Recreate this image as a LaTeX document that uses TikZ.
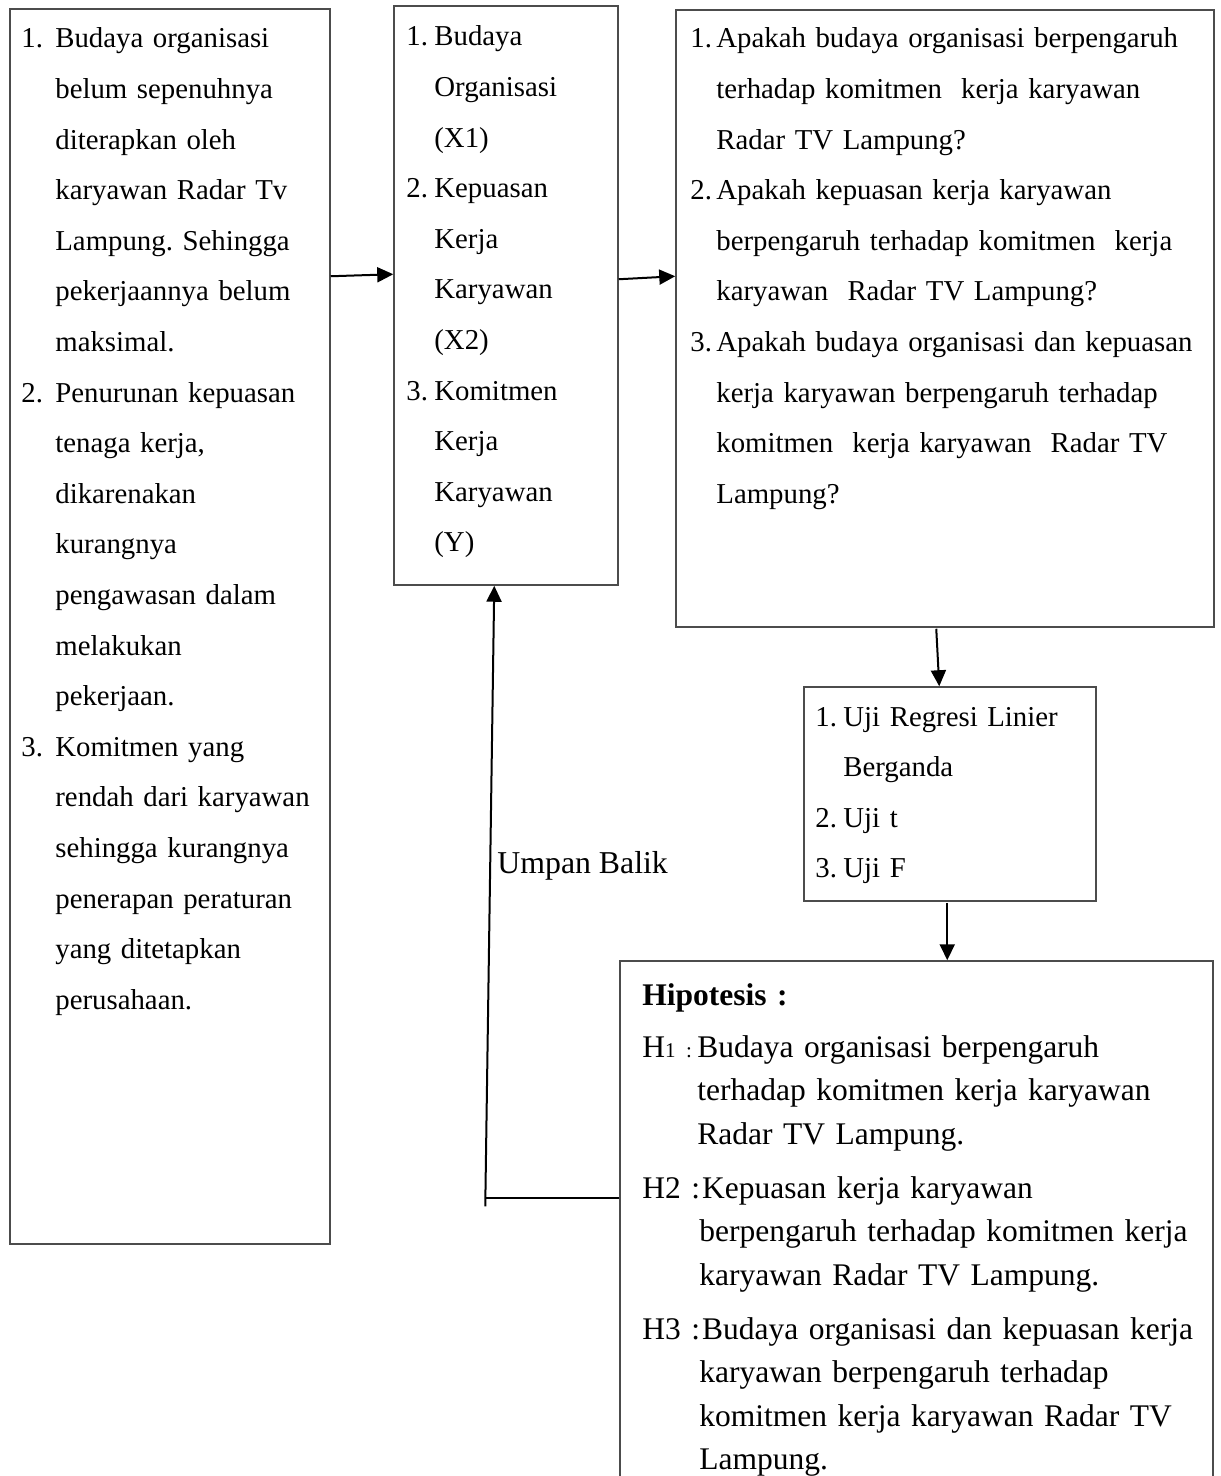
\documentclass[tikz,border=0pt]{standalone}
\usepackage{fontspec}
\setmainfont{Liberation Serif}
\usetikzlibrary{arrows.meta,calc,fit}
\newcommand\nitem[2]{\makebox[#1][l]{#2}}
\newcommand\ncont[1]{\hspace*{#1}}
\newcommand\smallsub[1]{{\fontsize{10.5pt}{10.5pt}\selectfont #1}}
\frenchspacing
\begin{document}
\frenchspacing
\begin{tikzpicture}[x=0.5pt,y=-0.5pt,
  box/.style={draw=black!70, line width=0.75pt, inner sep=0pt},
  arr/.style={line width=1pt, -{Triangle[length=8pt,width=7.5pt]}},
  ln/.style={line width=1pt},
  txta/.style={anchor=base west, inner sep=0pt, text width=300pt, align=left,
    font=\fontsize{14.4pt}{25.3pt}\selectfont\frenchspacing},
  txte/.style={anchor=base west, inner sep=0pt, text width=300pt, align=left,
    font=\fontsize{15.75pt}{21.75pt}\selectfont\frenchspacing}]
\useasboundingbox (0,0) rectangle (1220,1476);
\clip (0,0) rectangle (1220,1476);
% boxes
\node[box, fit={(10,9) (330,1244)}] (A) {};
\node[box, fit={(394,6) (618,585)}] (B) {};
\node[box, fit={(676,10) (1214,627)}] (C) {};
\node[box, fit={(804,687) (1096,901)}] (D) {};
\node[box, fit={(620,961) (1213,1500)}] (E) {};
% texts
\node[txta] (tA) at (21,48) {%
\nitem{17pt}{1.}Budaya organisasi\\
\ncont{17pt}belum sepenuhnya\\
\ncont{17pt}diterapkan oleh\\
\ncont{17pt}karyawan Radar Tv\\
\ncont{17pt}Lampung. Sehingga\\
\ncont{17pt}pekerjaannya belum\\
\ncont{17pt}maksimal.\\
\nitem{17pt}{2.}Penurunan kepuasan\\
\ncont{17pt}tenaga kerja,\\
\ncont{17pt}dikarenakan\\
\ncont{17pt}kurangnya\\
\ncont{17pt}pengawasan dalam\\
\ncont{17pt}melakukan\\
\ncont{17pt}pekerjaan.\\
\nitem{17pt}{3.}Komitmen yang\\
\ncont{17pt}rendah dari karyawan\\
\ncont{17pt}sehingga kurangnya\\
\ncont{17pt}penerapan peraturan\\
\ncont{17pt}yang ditetapkan\\
\ncont{17pt}perusahaan.};
\node[txta] (tB) at (406,46) {%
\nitem{14pt}{1.}Budaya\\
\ncont{14pt}Organisasi\\
\ncont{14pt}(X1)\\
\nitem{14pt}{2.}Kepuasan\\
\ncont{14pt}Kerja\\
\ncont{14pt}Karyawan\\
\ncont{14pt}(X2)\\
\nitem{14pt}{3.}Komitmen\\
\ncont{14pt}Kerja\\
\ncont{14pt}Karyawan\\
\ncont{14pt}(Y)};
\node[txta] (tC) at (690,48) {%
\nitem{13pt}{1.}Apakah budaya organisasi berpengaruh\\
\ncont{13pt}terhadap komitmen~ kerja karyawan\\
\ncont{13pt}Radar TV Lampung?\\
\nitem{13pt}{2.}Apakah kepuasan kerja karyawan\\
\ncont{13pt}berpengaruh terhadap komitmen~ kerja\\
\ncont{13pt}karyawan~ Radar TV Lampung?\\
\nitem{13pt}{3.}Apakah budaya organisasi dan kepuasan\\
\ncont{13pt}kerja karyawan berpengaruh terhadap\\
\ncont{13pt}komitmen~ kerja karyawan~ Radar TV\\
\ncont{13pt}Lampung?};
\node[txta] (tD) at (815,726) {%
\nitem{14pt}{1.}Uji Regresi Linier\\
\ncont{14pt}Berganda\\
\nitem{14pt}{2.}Uji t\\
\nitem{14pt}{3.}Uji F};
\node[txte] (tE) at (642,1005) {%
{\bfseries Hipotesis :}\\[4.25pt]
\nitem{27.5pt}{H\smallsub{1 :}}Budaya organisasi berpengaruh\\
\ncont{27.5pt}terhadap komitmen kerja karyawan\\
\ncont{27.5pt}Radar TV Lampung.\\[5.25pt]
H2 :\hspace{1pt}Kepuasan kerja karyawan\\
\ncont{28.5pt}berpengaruh terhadap komitmen kerja\\
\ncont{28.5pt}karyawan Radar TV Lampung.\\[5.25pt]
H3 :\hspace{1pt}Budaya organisasi dan kepuasan kerja\\
\ncont{28.5pt}karyawan berpengaruh terhadap\\
\ncont{28.5pt}komitmen kerja karyawan Radar TV\\
\ncont{28.5pt}Lampung.};
\node[anchor=base west, inner sep=0pt, font=\fontsize{15.9pt}{21pt}\selectfont] (ub) at (497,873) {Umpan Balik};
% connectors
\draw[arr] ($(A.north east)+(0,268)$) -- ($(B.north west)+(0,269)$);
\draw[arr] ($(B.north east)+(0,274)$) -- ($(C.north west)+(0,267)$);
\draw[arr] ($(C.south west)+(261,1)$) -- ($(D.north west)+(136,0)$);
\draw[arr] ($(D.south west)+(144,1)$) -- ($(E.north west)+(328,0)$);
\draw[ln] ($(E.north west)+(0,238)$) -- ++(-134,0);
\draw[arr] ($(E.north west)+(-134,246)$) -- ($(B.south west)+(101,0)$);
\end{tikzpicture}
\end{document}
